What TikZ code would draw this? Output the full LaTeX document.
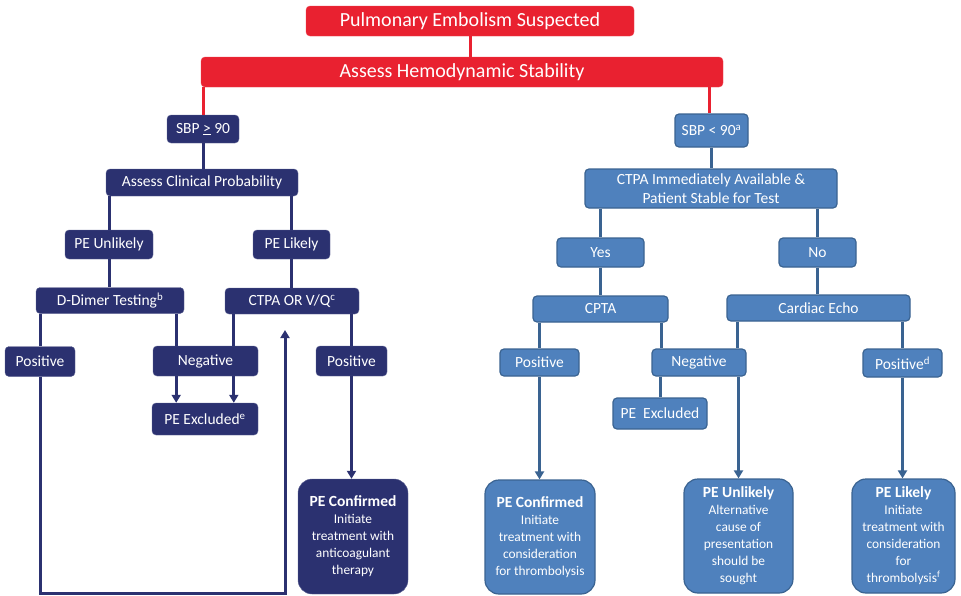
\documentclass[tikz,border=0pt]{standalone}
\usepackage{fontspec}
\setmainfont{Carlito}
\usetikzlibrary{arrows.meta,positioning,calc}

\definecolor{pered}{RGB}{233,33,48}
\definecolor{penavy}{RGB}{43,49,112}
\definecolor{peblue}{RGB}{79,129,189}
\definecolor{peedge}{RGB}{58,99,145}
\newcommand{\boxfont}{\fontsize{15.5}{19}\selectfont}
\newcommand{\bodyfont}{\fontsize{13.4}{17}\selectfont}
\newcommand{\pehead}[1]{{\boxfont\bfseries #1}}

\begin{document}
\begin{tikzpicture}[
    x=1pt, y=-1pt,
    >={Triangle[length=8pt,width=9pt]},
    every node/.style={text=white, inner sep=0pt, align=center},
    redbox/.style={fill=pered, draw=pered!85!white, rounded corners=4pt, font=\fontsize{20}{24}\selectfont},
    navybox/.style={fill=penavy, draw=penavy!75!white, rounded corners=4pt, font=\boxfont},
    bluebox/.style={fill=peblue, draw=peedge, line width=1.2pt, rounded corners=4pt, font=\boxfont},
    navyend/.style={navybox, rounded corners=14pt, font=\bodyfont},
    blueend/.style={bluebox, rounded corners=14pt, font=\bodyfont},
    redline/.style={draw=pered, line width=3pt},
    navyline/.style={draw=penavy, line width=3pt},
    blueline/.style={draw=peedge, line width=3pt}
]
\useasboundingbox (0,0) rectangle (961,595);

% Top of the chart
\node[redbox, minimum width=328pt, minimum height=30pt] (pes) at (470,21) {Pulmonary Embolism Suspected};
\node[redbox, minimum width=522pt, minimum height=30pt] (ahs) at (462,72) {Assess Hemodynamic Stability};

% Stable patient
\node[navybox, minimum width=72pt, minimum height=28pt] (sbpok) at (203,129) {SBP \underline{>} 90};
\node[navybox, minimum width=192pt, minimum height=27pt] (acp) at (202,182.5) {Assess Clinical Probability};
\node[navybox, minimum width=88pt, minimum height=29pt] (peu) at (109,244.5) {PE Unlikely};
\node[navybox, minimum width=77pt, minimum height=29pt] (pel) at (291.5,244.5) {PE Likely};
\node[navybox, minimum width=148pt, minimum height=26pt] (ddim) at (110,300.5) {D-Dimer Testing\textsuperscript{b}};
\node[navybox, minimum width=134pt, minimum height=26pt] (ctvq) at (292,301) {CTPA OR V/Q\textsuperscript{c}};
\node[navybox, minimum width=70pt, minimum height=30pt] (posl) at (40,361.5) {Positive};
\node[navybox, minimum width=105pt, minimum height=30pt] (negl) at (205.5,361) {Negative};
\node[navybox, minimum width=71pt, minimum height=30pt] (posr) at (351.5,361) {Positive};
\node[navybox, minimum width=106pt, minimum height=32pt] (exl) at (205,419) {PE Excluded\textsuperscript{e}};
\node[navyend, minimum width=110pt, minimum height=115pt] (confl) at (353,536.5)
    {\pehead{PE Confirmed}\\Initiate\\treatment with\\anticoagulant\\therapy};

% Unstable patient
\node[bluebox, minimum width=73pt, minimum height=33pt] (sbplow) at (711.5,130.5) {SBP < 90\textsuperscript{a}};
\node[bluebox, minimum width=252pt, minimum height=39pt] (ctpaq) at (711,188.5) {CTPA Immediately Available \&\\Patient Stable for Test};
\node[bluebox, minimum width=87pt, minimum height=29pt] (yes) at (600.5,252.5) {Yes};
\node[bluebox, minimum width=77pt, minimum height=29pt] (no) at (817.5,252.5) {No};
\node[bluebox, minimum width=135pt, minimum height=26pt] (cpta) at (600.5,309) {CPTA};
\node[bluebox, minimum width=183pt, minimum height=26pt] (echo) at (818.5,308) {Cardiac Echo};
\node[bluebox, minimum width=79pt, minimum height=27pt] (posa) at (539.5,362.5) {Positive};
\node[bluebox, minimum width=94pt, minimum height=27pt] (negb) at (699,362.5) {Negative};
\node[bluebox, minimum width=79pt, minimum height=28pt] (posd) at (902.5,363) {Positive\textsuperscript{d}};
\node[bluebox, minimum width=94pt, minimum height=31pt] (exr) at (660,413.5) {PE~~Excluded};
\node[blueend, minimum width=110pt, minimum height=114pt] (confr) at (540,537)
    {\pehead{PE Confirmed}\\Initiate\\treatment with\\consideration\\for thrombolysis};
\node[blueend, minimum width=109pt, minimum height=114pt] (unl) at (738.5,536)
    {\pehead{PE Unlikely}\\Alternative\\cause of\\presentation\\should be\\sought};
\node[blueend, minimum width=103pt, minimum height=114pt] (likr) at (903.5,536)
    {\pehead{PE Likely}\\Initiate\\treatment with\\consideration\\for\\thrombolysis\textsuperscript{f}};

% Free ends of the loop back, and the tap for the right red line
\coordinate (loopcorner) at (285,593);
\coordinate (loopend) at (285,330);
\coordinate (redtap) at (709,0);

% Red connectors
\draw[redline] (pes.south) -- (pes.south |- ahs.north);
\draw[redline] (ahs.south -| sbpok.north) -- (sbpok.north);
\draw[redline] (ahs.south -| redtap) -- (redtap |- sbplow.north);

% Navy connectors
\draw[navyline] (sbpok.south) -- (sbpok.south |- acp.north);
\draw[navyline] (acp.south -| peu.north) -- (peu.north);
\draw[navyline] (acp.south -| pel.north) -- (pel.north);
\draw[navyline] (peu.south) -- (peu.south |- ddim.north);
\draw[navyline] (pel.south) -- (pel.south |- ctvq.north);
\draw[navyline] (ddim.south -| posl.north) -- (posl.north);
\draw[navyline] ([xshift=-8pt]ddim.south east) -- ([xshift=-8pt]ddim.south east |- negl.north);
\draw[navyline] ([xshift=9pt]ctvq.south west) -- ([xshift=9pt]ctvq.south west |- negl.north);
\draw[navyline] (ctvq.south -| posr.north) -- (posr.north);
\draw[navyline, ->] ([xshift=-8pt]ddim.south east |- negl.south) -- ([xshift=-8pt]ddim.south east |- exl.north);
\draw[navyline, ->] ([xshift=9pt]ctvq.south west |- negl.south) -- ([xshift=9pt]ctvq.south west |- exl.north);
\draw[navyline, ->] (posr.south) -- (posr.south |- confl.north);
\draw[navyline, ->] (posl.south) |- (loopcorner) -- (loopend);

% Blue connectors
\draw[blueline] (sbplow.south) -- (sbplow.south |- ctpaq.north);
\draw[blueline] (ctpaq.south -| yes.north) -- (yes.north);
\draw[blueline] (ctpaq.south -| no.north) -- (no.north);
\draw[blueline] (yes.south) -- (yes.south |- cpta.north);
\draw[blueline] (no.south) -- (no.south |- echo.north);
\draw[blueline] (cpta.south -| posa.north) -- (posa.north);
\draw[blueline] ([xshift=-7pt]cpta.south east) -- ([xshift=-7pt]cpta.south east |- negb.north);
\draw[blueline] ([xshift=11pt]echo.south west) -- ([xshift=11pt]echo.south west |- negb.north);
\draw[blueline] (echo.south -| posd.north) -- (posd.north);
\draw[blueline] (negb.south -| exr.north) -- (exr.north);
\draw[blueline, ->] (negb.south -| unl.north) -- (unl.north);
\draw[blueline, ->] (posa.south) -- (posa.south |- confr.north);
\draw[blueline, ->] (posd.south) -- (posd.south |- likr.north);

\end{tikzpicture}
\end{document}
